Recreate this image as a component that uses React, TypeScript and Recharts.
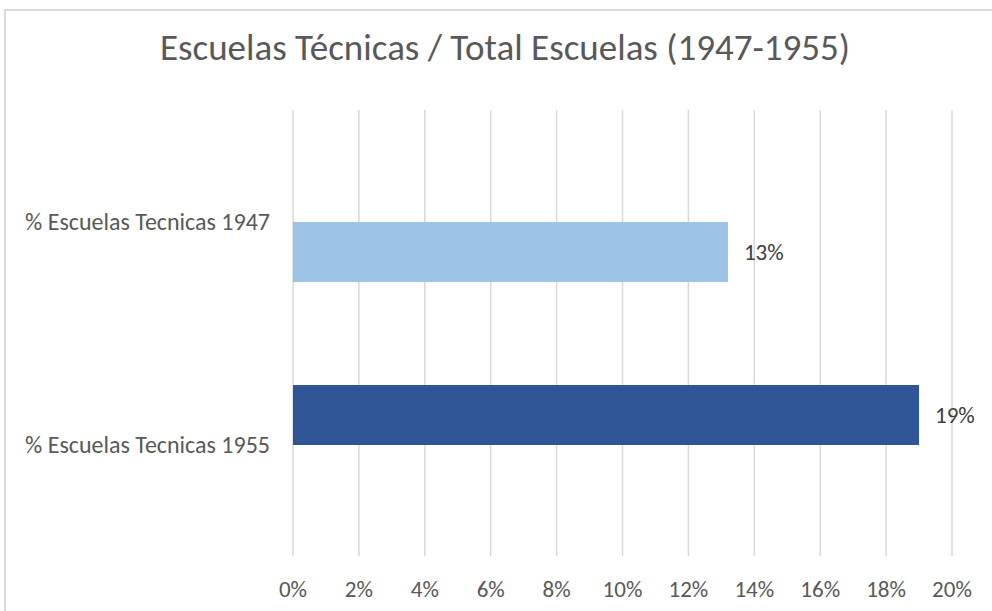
import { BarChart, Bar, XAxis, YAxis, CartesianGrid, LabelList } from "recharts";

const categorias = ["% Escuelas Tecnicas 1947", "% Escuelas Tecnicas 1955"];
const valores1955 = [null, 0.19];
const valores1947 = [0.132, null];
const ticksX = [0, 0.02, 0.04, 0.06, 0.08, 0.1, 0.12, 0.14, 0.16, 0.18, 0.2];

const data = categorias.map((name, i) => ({
  name,
  v1955: valores1955[i],
  v1947: valores1947[i]
}));

const FONT = "Carlito, Calibri, Lato, sans-serif";

const pct = (v: any) => (v === null || v === undefined ? "" : Math.round(v * 100) + "%");

export default function App() {
  return (
    <div
      style={{
        position: "absolute",
        left: 0,
        top: 0,
        width: 992,
        height: 611,
        overflow: "hidden",
        background: "#fff",
        fontFamily: FONT
      }}
    >
      <div
        style={{
          position: "absolute",
          left: 4,
          top: 9,
          width: 1200,
          height: 800,
          border: "2px solid #d9d9d9",
          boxSizing: "border-box"
        }}
      />
      <div
        style={{
          position: "absolute",
          left: 5,
          top: 28,
          width: 1000,
          textAlign: "center",
          fontSize: 37,
          lineHeight: "40px",
          color: "#595959"
        }}
      >
        Escuelas Técnicas / Total Escuelas (1947-1955)
      </div>
      <div style={{ position: "absolute", left: 0, top: 0 }}>
        <BarChart
          width={992}
          height={611}
          layout="vertical"
          data={data}
          barGap={0}
          margin={{ top: 110, right: 40, bottom: 15, left: 33 }}
        >
          <CartesianGrid horizontal={false} stroke="#d9d9d9" strokeWidth={1.5} />
          <XAxis
            type="number"
            domain={[0, 0.2]}
            ticks={ticksX}
            tickFormatter={pct}
            axisLine={false}
            tickLine={false}
            tickSize={0}
            tickMargin={25}
            height={40}
            interval={0}
            tick={{ fill: "#595959", fontSize: 23, fontFamily: FONT }}
          />
          <YAxis
            type="category"
            dataKey="name"
            width={260}
            axisLine={false}
            tickLine={false}
            tickSize={0}
            tickMargin={23}
            tick={{ fill: "#595959", fontSize: 24, fontFamily: FONT }}
          />
          <Bar dataKey="v1955" fill="#2f5597" barSize={60} isAnimationActive={false}>
            <LabelList
              dataKey="v1955"
              position="right"
              offset={16}
              formatter={pct}
              fill="#404040"
              fontSize={23}
              fontFamily={FONT}
            />
          </Bar>
          <Bar dataKey="v1947" fill="#9dc3e6" barSize={60} isAnimationActive={false}>
            <LabelList
              dataKey="v1947"
              position="right"
              offset={16}
              formatter={pct}
              fill="#404040"
              fontSize={23}
              fontFamily={FONT}
            />
          </Bar>
        </BarChart>
      </div>
    </div>
  );
}
